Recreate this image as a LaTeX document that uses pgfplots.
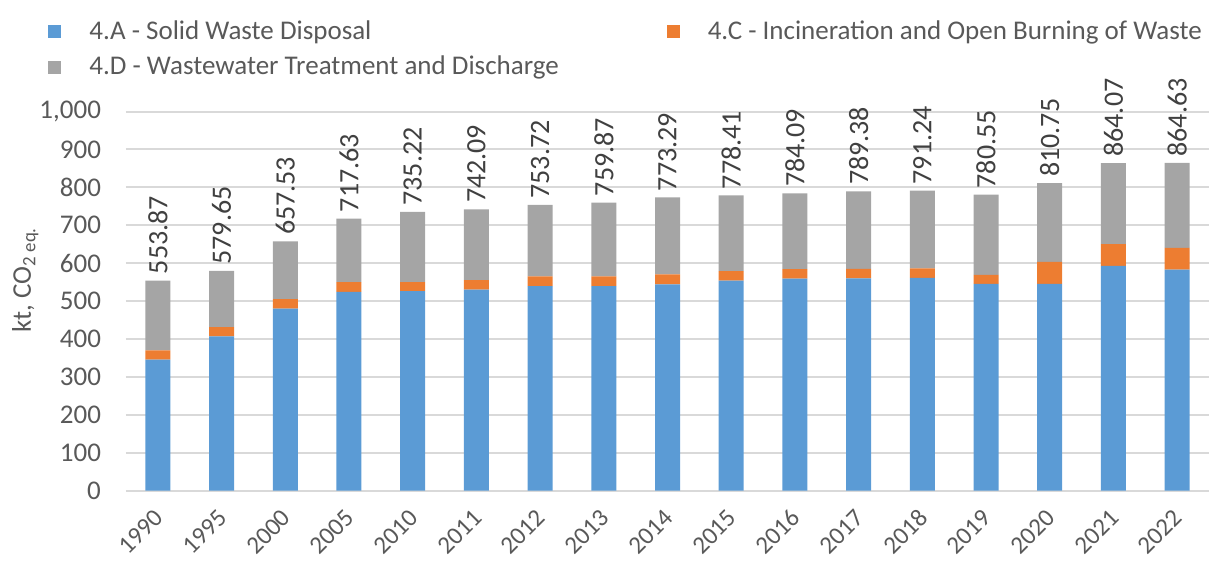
\documentclass[border=0pt]{standalone}
\usepackage{pgfplots}
\pgfplotsset{compat=1.18}
\usepackage{pgfplotstable}
\usepackage{fontspec}
\setmainfont{Carlito}

\definecolor{cA}{HTML}{5B9BD5}
\definecolor{cC}{HTML}{ED7D31}
\definecolor{cD}{HTML}{A5A5A5}
\definecolor{txt}{HTML}{595959}
\definecolor{grd}{HTML}{D9D9D9}

% x, year, 4.A, 4.C, 4.D, total
\pgfplotstableread{
x year A C D T
0 1990 345 25 183.87 553.87
1 1995 407 24 148.65 579.65
2 2000 480 25 152.53 657.53
3 2005 524 26 167.63 717.63
4 2010 526 24 185.22 735.22
5 2011 530 25 187.09 742.09
6 2012 539 26 188.72 753.72
7 2013 539 26 194.87 759.87
8 2014 544 26 203.29 773.29
9 2015 554 25 199.41 778.41
10 2016 559 25 200.09 784.09
11 2017 560 25 204.38 789.38
12 2018 561 25 205.24 791.24
13 2019 545 24 211.55 780.55
14 2020 545 58 207.75 810.75
15 2021 593 57 214.07 864.07
16 2022 583 57 224.63 864.63
}\emissions

\pgfplotsset{frame/.style={
    scale only axis,
    width=541.5pt, height=189.5pt,
    at={(0,0)}, anchor=south west,
    xmin=-0.5, xmax=16.5,
    ymin=0, ymax=1000,
    clip=false,
    /pgf/number format/assume math mode=true}}

\begin{document}
\begin{tikzpicture}
\begin{axis}[
    frame,
    ybar stacked,
    bar width=12.5pt,
    ytick={0,100,...,1000},
    xtick=data,
    xticklabels={1990,1995,2000,2005,2010,2011,2012,2013,2014,2015,2016,2017,2018,2019,2020,2021,2022},
    axis line style={draw=none},
    major tick length=0pt,
    ymajorgrids,
    grid style={grd, line width=1pt},
    /pgf/number format/1000 sep={,},
    tick label style={font=\fontsize{12.5}{14}\selectfont, text=txt},
    yticklabel style={xshift=-9pt, font=\fontsize{13.5}{15}\selectfont},
    xticklabel style={xshift=3pt, yshift=-9pt, rotate=45, anchor=east},
    ylabel={kt, CO\textsubscript{2 eq.}},
    ylabel style={at={(axis description cs:-0.093,0.556)}, anchor=center, font=\fontsize{13.5}{15}\selectfont, text=txt},
    legend columns=2,
    legend cell align=left,
    legend style={at={(axis description cs:-0.072,1.252)}, anchor=north west, draw=none, fill=none,
        font=\fontsize{13.5}{15}\selectfont, text=txt, inner sep=0pt, row sep=3pt,
        /tikz/every odd column/.append style={column sep=12pt},
        /tikz/every even column/.append style={column sep=52pt}},
    legend image code/.code={\fill[#1] (0pt,-3.25pt) rectangle (6.5pt,3.25pt);},
]
\addplot[fill=cA, draw=none] table[x=x, y=A] {\emissions};
\addplot[fill=cC, draw=none] table[x=x, y=C] {\emissions};
\addplot[fill=cD, draw=none] table[x=x, y=D] {\emissions};
\legend{4.A - Solid Waste Disposal, 4.C - Incineration and Open Burning of Waste, 4.D - Wastewater Treatment and Discharge}
\end{axis}
% total labels above the bars, same frame
\begin{axis}[frame, hide axis]
\addplot[draw=none, mark=none, point meta=explicit,
    nodes near coords={\pgfmathprintnumber[fixed, precision=2, fixed zerofill]{\pgfplotspointmeta}},
    every node near coord/.append style={rotate=90, anchor=west, font=\fontsize{14}{16}\selectfont, text=black!75, inner sep=3pt}]
    table[x=x, y=T, meta=T] {\emissions};
\end{axis}
\pgfresetboundingbox
\path[use as bounding box] (-63pt,-36.25pt) rectangle (541.5pt,245.25pt);
\end{tikzpicture}
\end{document}
